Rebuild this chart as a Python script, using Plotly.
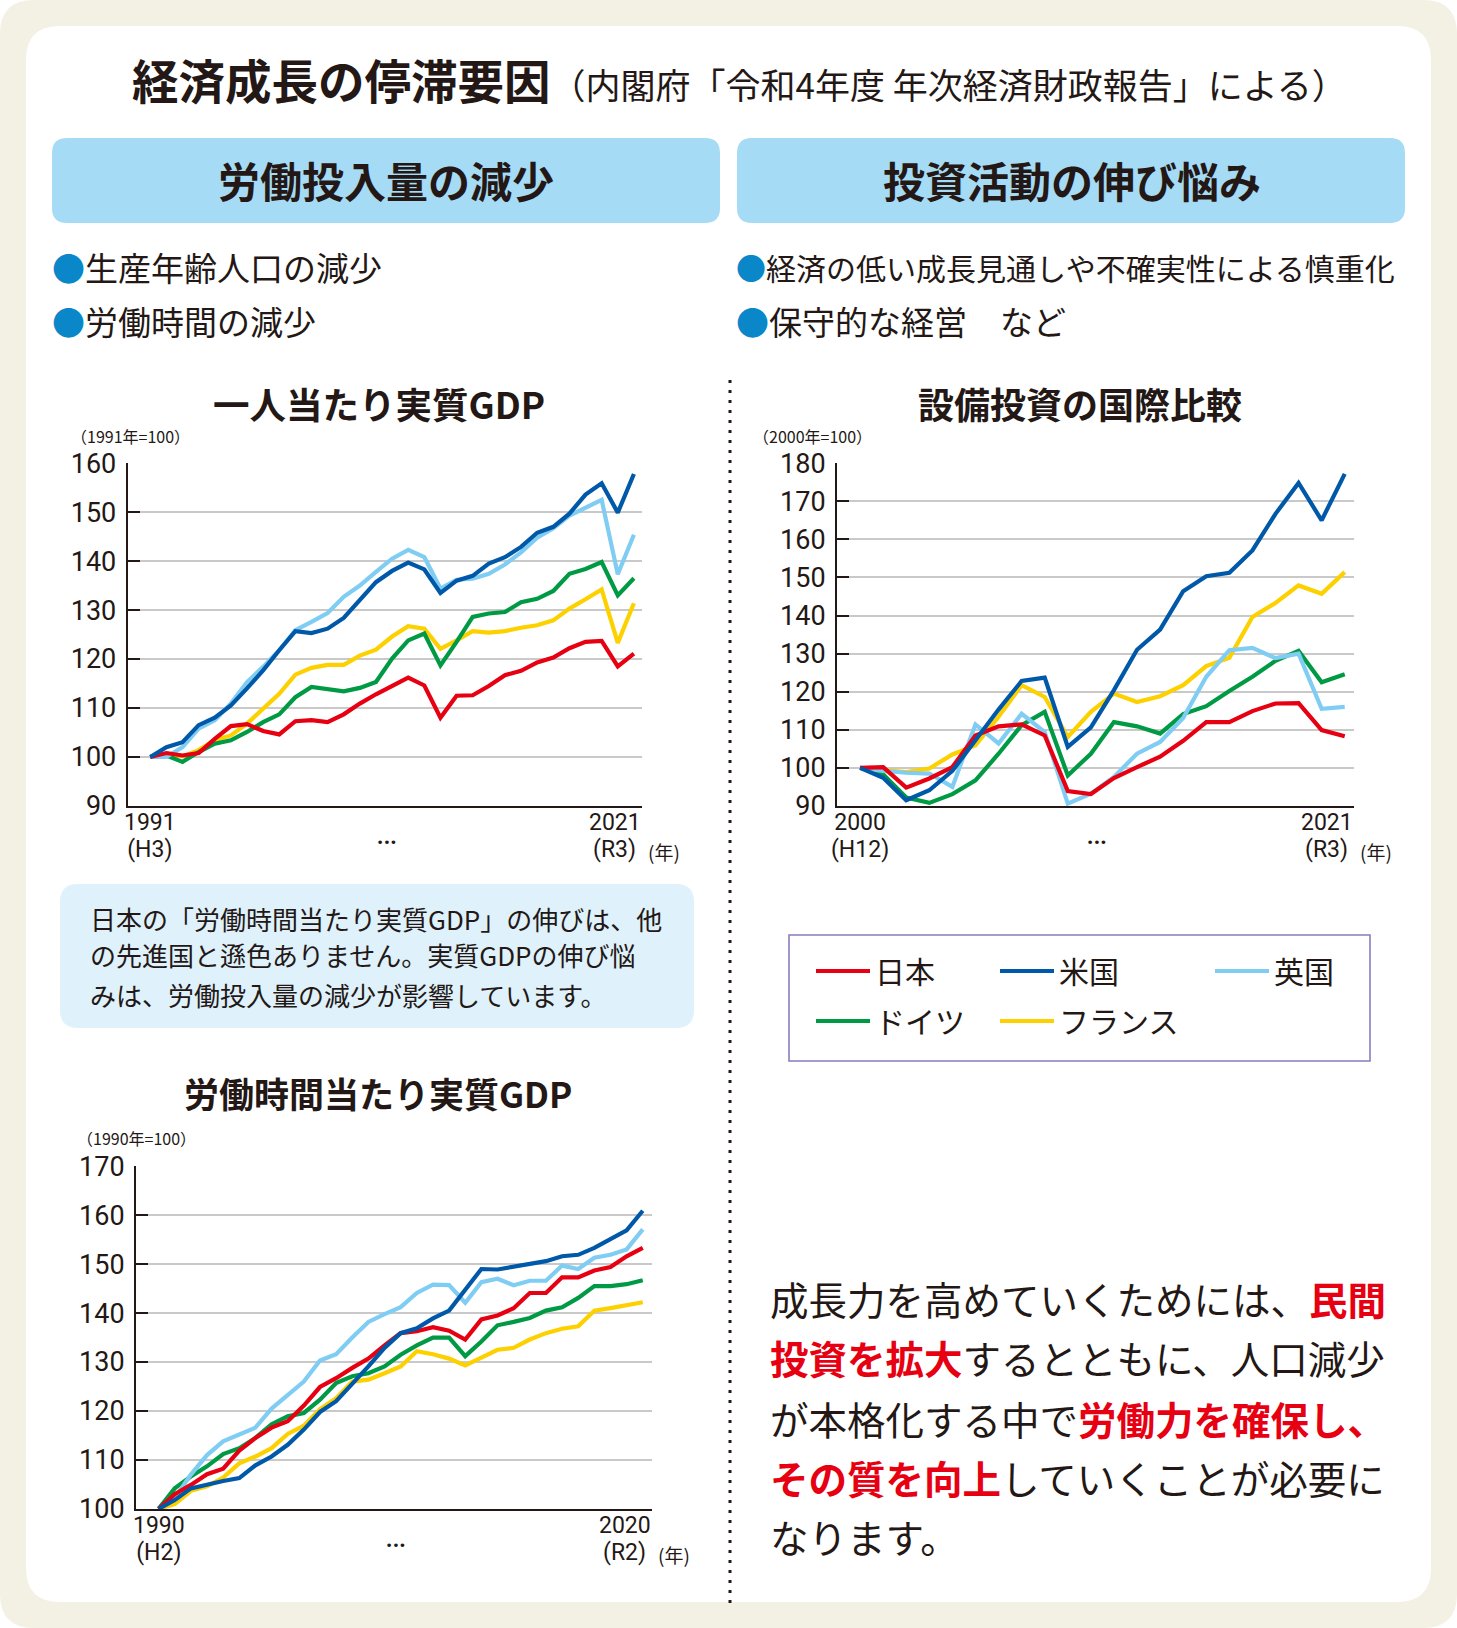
import plotly.graph_objects as go

W, H = 1457, 1628
DARK = "#231815"
JP = "Noto Sans CJK JP"
NUM = "Liberation Sans Narrow, Arial Narrow, Roboto, sans-serif"

# ---------------- data ----------------
countries = ["フランス", "ドイツ", "英国", "日本", "米国"]  # drawing order
colors = {"日本": "#e60012", "米国": "#0058a8", "英国": "#80cdf3",
          "ドイツ": "#009a44", "フランス": "#fdd000"}
legend_of = {"日本": "legend", "ドイツ": "legend", "米国": "legend2",
             "フランス": "legend2", "英国": "legend3"}
legend_rank = {"日本": 1, "ドイツ": 2, "米国": 1, "フランス": 2, "英国": 1}

years_gdp = list(range(1991, 2022))
gdp_jp = [100, 100.8, 100.3, 100.8, 103.7, 106.3, 106.7, 105.3, 104.6, 107.3, 107.5,
          107.1, 108.7, 110.9, 112.8, 114.6, 116.2, 114.6, 108.0, 112.5, 112.6, 114.5,
          116.7, 117.6, 119.3, 120.3, 122.2, 123.5, 123.7, 118.5, 121.1]
gdp_us = [100, 102, 103, 106.5, 108, 110.5, 114, 117.7, 121.8, 125.7, 125.3, 126.2,
          128.4, 132, 135.7, 138, 139.7, 138.3, 133.5, 136, 137, 139.5, 140.8, 142.9,
          145.8, 147, 149.7, 153.6, 155.9, 149.9, 157.8]
gdp_uk = [100, 100, 102, 105.8, 107.5, 110.9, 115.3, 118.4, 121.8, 125.9, 127.6, 129.4,
          132.7, 135, 137.8, 140.5, 142.3, 140.8, 134.4, 136.2, 136.4, 137.4, 139.3,
          141.8, 144.8, 146.7, 149.3, 150.9, 152.5, 137.3, 145.4]
gdp_de = [100, 100.3, 99, 101, 102.7, 103.4, 105.1, 107.1, 108.7, 112.2, 114.3, 113.9,
          113.4, 114.1, 115.3, 120.1, 123.8, 125.2, 118.7, 123.5, 128.6, 129.3, 129.6,
          131.6, 132.3, 133.9, 137.4, 138.4, 139.8, 133, 136.5]
gdp_fr = [100, 100.7, 100.1, 101.4, 103.4, 104.4, 106.8, 109.9, 112.9, 116.8, 118.2,
          118.8, 118.8, 120.7, 121.9, 124.6, 126.7, 126.2, 122.1, 123.8, 125.7, 125.4,
          125.7, 126.4, 126.9, 127.9, 130.3, 132.2, 134.2, 123.3, 131.4]

years_inv = list(range(2000, 2022))
inv_jp = [100, 100.2, 94.8, 97.2, 100.2, 108.5, 110.9, 111.4, 108.5, 93.9, 93.1, 97.3,
          100.2, 102.9, 107.1, 112, 112, 114.9, 116.9, 117, 109.9, 108.3]
inv_us = [100, 97.4, 91.5, 94.1, 99.2, 107.2, 115.3, 122.8, 123.7, 105.5, 110.6, 120.4,
          131, 136.3, 146.4, 150.3, 151.2, 157.1, 166.7, 174.8, 165, 177.2]
inv_uk = [100, 99.2, 98.7, 98.5, 95, 111.4, 106.4, 114.2, 109.4, 90.6, 93.2, 97.6,
          103.7, 106.8, 113.1, 123.9, 130.9, 131.5, 128.8, 130, 115.5, 116]
inv_de = [100, 98.3, 92.2, 90.8, 93.1, 96.7, 103.7, 111.2, 114.7, 98, 103.7, 112,
          110.9, 109, 114.1, 116.2, 120.2, 123.9, 128.1, 130.7, 122.5, 124.6]
inv_fr = [100, 99.5, 98.9, 99.8, 103.5, 105.9, 113.4, 121.7, 118.6, 108.1, 114.7, 119.5,
          117.3, 118.8, 121.7, 126.7, 128.9, 139.6, 143.3, 147.9, 145.7, 151.4]

years_hr = list(range(1990, 2021))
hr_jp = [100, 103, 104.9, 107.1, 108.2, 111.9, 114.5, 116.6, 117.9, 121.1, 124.9, 126.7,
         128.8, 130.7, 133.4, 135.9, 136.3, 137.1, 136.4, 134.6, 138.7, 139.5, 141, 144.1,
         144.1, 147.3, 147.3, 148.7, 149.4, 151.6, 153.3]
hr_us = [100, 101.8, 104.2, 105, 105.7, 106.3, 108.9, 110.7, 113.1, 116.2, 119.8, 122,
         125.4, 129.1, 132.9, 135.9, 136.9, 138.9, 140.5, 144.8, 149, 148.9, 149.4, 150,
         150.6, 151.6, 151.9, 153.3, 155, 156.9, 160.9]
hr_uk = [100, 102.2, 107, 111, 113.8, 115.1, 116.6, 120.5, 123.2, 126, 130.3, 131.6, 135,
         138.2, 139.8, 141.2, 144.1, 145.8, 145.7, 142.1, 146.3, 147, 145.7, 146.6, 146.6,
         149.7, 149, 151.3, 151.9, 153, 157.1]
hr_de = [100, 104.2, 106.6, 108.7, 111.2, 112.4, 114.5, 117.3, 118.9, 119.6, 122.3, 125.7,
         127.1, 127.7, 129.1, 131.5, 133.4, 135, 135, 131.2, 134.2, 137.5, 138.2, 139, 140.5,
         141.2, 143.1, 145.5, 145.5, 145.9, 146.7]
hr_fr = [100, 101, 103.7, 104.6, 106.4, 109.3, 110.7, 112.4, 115.3, 117, 120.4, 122.6, 126,
         126.4, 127.7, 129.1, 132.2, 131.6, 130.7, 129.3, 130.9, 132.5, 132.9, 134.6, 135.9,
         136.8, 137.3, 140.5, 141, 141.5, 142.2]

gdp = {"日本": gdp_jp, "米国": gdp_us, "英国": gdp_uk, "ドイツ": gdp_de, "フランス": gdp_fr}
inv = {"日本": inv_jp, "米国": inv_us, "英国": inv_uk, "ドイツ": inv_de, "フランス": inv_fr}
hr = {"日本": hr_jp, "米国": hr_us, "英国": hr_uk, "ドイツ": hr_de, "フランス": hr_fr}

# ---------------- helpers ----------------
def px(x):
    return x / W


def py(y):
    return 1 - y / H


def rrect(x0, y0, x1, y1, r):
    def P(x, y):
        return f"{px(x):.5f},{py(y):.5f}"
    return (f"M{P(x0 + r, y0)} L{P(x1 - r, y0)} Q{P(x1, y0)} {P(x1, y0 + r)} "
            f"L{P(x1, y1 - r)} Q{P(x1, y1)} {P(x1 - r, y1)} L{P(x0 + r, y1)} "
            f"Q{P(x0, y1)} {P(x0, y1 - r)} L{P(x0, y0 + r)} Q{P(x0, y0)} {P(x0 + r, y0)} Z")


fig = go.Figure()


def add_chart(xv, series, xa, ya, show):
    for name in countries:
        fig.add_trace(go.Scatter(
            x=xv, y=series[name], mode="lines", name=name,
            line=dict(color=colors[name], width=4.2),
            xaxis=xa, yaxis=ya, showlegend=show, legend=legend_of[name],
            legendgroup=name, legendrank=legend_rank[name], hoverinfo="skip"))


add_chart(years_gdp, gdp, "x", "y", False)
add_chart(years_inv, inv, "x2", "y2", True)
add_chart(years_hr, hr, "x3", "y3", False)


def yax(top, bottom, rng, anchor):
    return dict(domain=[py(bottom), py(top)], range=rng, anchor=anchor,
                tickmode="linear", tick0=rng[0], dtick=10,
                showgrid=True, gridcolor="#c9c9c9", gridwidth=2,
                showline=True, linecolor=DARK, linewidth=2,
                ticks="inside", ticklen=12, tickwidth=2, tickcolor=DARK,
                zeroline=False, ticklabelstandoff=4, automargin=False,
                tickfont=dict(family=NUM, size=27, color=DARK), fixedrange=True)


def xax(left, right, rng, anchor):
    return dict(domain=[px(left), px(right)], range=rng, anchor=anchor,
                showgrid=False, showline=True, linecolor=DARK, linewidth=2,
                showticklabels=False, ticks="", zeroline=False, fixedrange=True,
                automargin=False)


# ---------------- annotations ----------------
ann = []


def T(x, y, s, size, color=DARK, family=JP, xanchor="left", xref="paper", align="left"):
    ann.append(dict(x=(px(x) if xref == "paper" else x), y=py(y), xref=xref, yref="paper",
                    text=s, showarrow=False, xanchor=xanchor, yanchor="middle", align=align,
                    font=dict(size=size, color=color, family=family)))


BL = '<span style="color:#0a87c9">●</span>'
RED = lambda s: f'<b><span style="color:#e60012">{s}</span></b>'

T(130, 78, '<b>経済成長の停滞要因</b><span style="font-size:35px">（内閣府「令和4年度 年次経済財政報告」による）</span>', 46.5)
T(386, 180, "<b>労働投入量の減少</b>", 42, xanchor="center")
T(1072, 180, "<b>投資活動の伸び悩み</b>", 42, xanchor="center")
T(50, 267, BL + "生産年齢人口の減少", 33)
T(50, 321, BL + "労働時間の減少", 33)
T(734, 267, BL + "経済の低い成長見通しや不確実性による慎重化", 30)
T(734, 321, BL + "保守的な経営　など", 33)

T(379, 403, "<b>一人当たり実質GDP</b>", 36.5, xanchor="center")
T(1080, 403, "<b>設備投資の国際比較</b>", 36, xanchor="center")
T(378, 1092, "<b>労働時間当たり実質GDP</b>", 35, xanchor="center")
T(130, 436, "（1991年=100）", 16, xanchor="center")
T(812, 436, "（2000年=100）", 16, xanchor="center")
T(136, 1138, "（1990年=100）", 16, xanchor="center")


# x-axis end labels (two stacked lines, ~27px apart)
def big(s):
    return f'<span style="font-size:23px">{s}</span>'


def xlabels(xref, first, last, hfirst, hlast, y1, dots_x, xend_px):
    T(first, y1 + 13, big(str(first)) + "<br>" + big(hfirst), 20.8, family=NUM,
      xanchor="center", xref=xref, align="center")
    T(xend_px + 1, y1 + 13, big(str(last)) + "<br>" + big(hlast + "\u2009"), 20.8, family=NUM,
      xanchor="right", align="right")
    T(xend_px + 4, y1 + 28, "(年)", 19, xanchor="left")
    T(dots_x, y1 + 10, "…", 32, family=NUM, xanchor="center")


xlabels("x", 1991, 2021, "(H3)", "(R3)", 823, 386, 641.8)
xlabels("x2", 2000, 2021, "(H12)", "(R3)", 823, 1096, 1353.5)
xlabels("x3", 1990, 2020, "(H2)", "(R2)", 1526, 395, 651.8)

# note box text
T(88, 918, "日本の「労働時間当たり実質GDP」の伸びは、他", 26)
T(88, 955, "の先進国と遜色ありません。実質GDPの伸び悩", 26)
T(88, 994, "みは、労働投入量の減少が影響しています。", 26)

# conclusion text
T(768, 1298, "成長力を高めていくためには、" + RED("民間"), 38.5)
T(768, 1357, RED("投資を拡大") + "するとともに、人口減少", 38.5)
T(768, 1418, "が本格化する中で" + RED("労働力を確保し、"), 38.5)
T(768, 1477, RED("その質を向上") + "していくことが必要に", 38.5)
T(768, 1536, "なります。", 38.5)

# ---------------- shapes ----------------
shapes = [
    dict(type="path", path=rrect(0, 0, W, H, 34), fillcolor="#f3f0e4", line=dict(width=0),
         xref="paper", yref="paper", layer="below"),
    dict(type="path", path=rrect(26, 26, 1431, 1602, 34), fillcolor="#ffffff", line=dict(width=0),
         xref="paper", yref="paper", layer="below"),
    dict(type="path", path=rrect(52, 138, 720, 223, 15), fillcolor="#a5dbf5", line=dict(width=0),
         xref="paper", yref="paper", layer="below"),
    dict(type="path", path=rrect(737, 138, 1405, 223, 15), fillcolor="#a5dbf5", line=dict(width=0),
         xref="paper", yref="paper", layer="below"),
    dict(type="path", path=rrect(60, 884, 694, 1028, 18), fillcolor="#dff1fb", line=dict(width=0),
         xref="paper", yref="paper", layer="below"),
    dict(type="line", x0=px(730), x1=px(730), y0=py(380), y1=py(1604), xref="paper", yref="paper",
         line=dict(color=DARK, width=3, dash="3px,7px"), layer="below"),
    dict(type="rect", x0=px(789), x1=px(1370), y0=py(935), y1=py(1061), xref="paper", yref="paper",
         line=dict(color="#8c7cbf", width=1.6), fillcolor="rgba(0,0,0,0)", layer="below"),
]

leg_common = dict(xanchor="left", yanchor="top", bgcolor="rgba(0,0,0,0)", borderwidth=0,
                  font=dict(size=30, family=JP, color=DARK), tracegroupgap=8,
                  orientation="v", itemwidth=54, itemclick=False, itemdoubleclick=False)

fig.update_layout(
    width=W, height=H, margin=dict(l=0, r=0, t=0, b=0, pad=0, autoexpand=False),
    paper_bgcolor="#ffffff", plot_bgcolor="rgba(0,0,0,0)",
    xaxis=xax(127.7, 641.8, [1989.6, 2021.49], "y"),
    yaxis=yax(463.2, 805.9, [90, 160], "x"),
    xaxis2=xax(837, 1353.5, [1999.0, 2021.38], "y2"),
    yaxis2=yax(463.2, 805.9, [90, 180], "x2"),
    xaxis3=xax(136, 651.8, [1988.6, 2020.56], "y3"),
    yaxis3=yax(1166.2, 1508.9, [100, 170], "x3"),
    legend=dict(x=px(811), y=py(945), **leg_common),
    legend2=dict(x=px(995), y=py(945), **leg_common),
    legend3=dict(x=px(1210), y=py(945), **leg_common),
    annotations=ann, shapes=shapes, showlegend=True,
)

# place the figure at the page origin (no default body margin / scrollbars)
post = ("document.body.style.margin='0';document.body.style.overflow='hidden';"
        "var gd=document.getElementById('{plot_id}');gd.style.position='absolute';"
        "gd.style.left='0px';gd.style.top='0px';")

fig.write_html("out.html", post_script=post, config={"displayModeBar": False})
